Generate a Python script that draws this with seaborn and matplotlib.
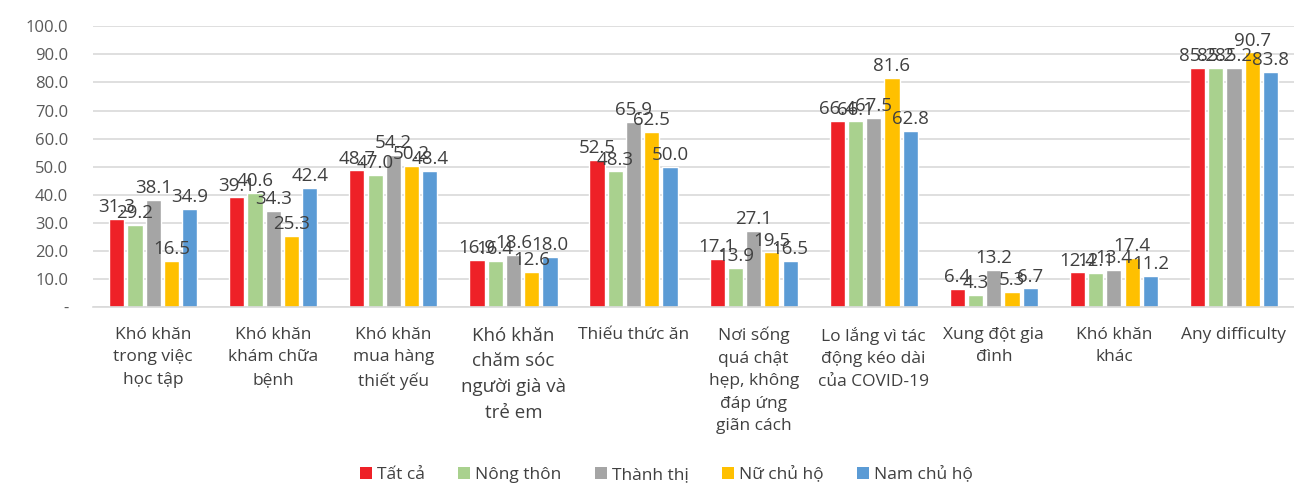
import matplotlib
matplotlib.use("Agg")
import matplotlib.pyplot as plt
from matplotlib.patches import Patch
import seaborn as sns
import pandas as pd

categories = [
    "Khó khăn\ntrong việc\nhọc tập",
    "Khó khăn\nkhám chữa\nbệnh",
    "Khó khăn\nmua hàng\nthiết yếu",
    "Khó khăn\nchăm sóc\nngười già và\ntrẻ em",
    "Thiếu thức ăn",
    "Nơi sống\nquá chật\nhẹp, không\nđáp ứng\ngiãn cách",
    "Lo lắng vì tác\nđộng kéo dài\ncủa COVID-19",
    "Xung đột gia\nđình",
    "Khó khăn\nkhác",
    "Any difficulty",
]
series = ["Tất cả", "Nông thôn", "Thành thị", "Nữ chủ hộ", "Nam chủ hộ"]
tat_ca = [31.3, 39.1, 48.7, 16.9, 52.5, 17.1, 66.4, 6.4, 12.4, 85.2]
nong_thon = [29.2, 40.6, 47.0, 16.4, 48.3, 13.9, 66.1, 4.3, 12.1, 85.2]
thanh_thi = [38.1, 34.3, 54.2, 18.6, 65.9, 27.1, 67.5, 13.2, 13.4, 85.2]
nu_chu_ho = [16.5, 25.3, 50.2, 12.6, 62.5, 19.5, 81.6, 5.3, 17.4, 90.7]
nam_chu_ho = [34.9, 42.4, 48.4, 18.0, 50.0, 16.5, 62.8, 6.7, 11.2, 83.8]
yticks = [0, 10, 20, 30, 40, 50, 60, 70, 80, 90, 100]
ytick_labels = ["-"] + [f"{v:.1f}" for v in yticks[1:]]

colors = ["#EE2127", "#A9D18E", "#A5A5A5", "#FFC000", "#5B9BD5"]

values = [tat_ca, nong_thon, thanh_thi, nu_chu_ho, nam_chu_ho]
rows = []
for s, vals in zip(series, values):
    for c, v in zip(categories, vals):
        rows.append({"cat": c, "series": s, "value": v})
df = pd.DataFrame(rows)

sns.set_theme(style="white")
plt.rcParams["font.family"] = ["Open Sans", "DejaVu Sans"]

fig = plt.figure(figsize=(12.94, 4.86), dpi=100)
ax = fig.add_axes([0.072, 0.368, 0.928, 0.578])

sns.barplot(data=df, x="cat", y="value", hue="series", order=categories,
            hue_order=series, palette=colors, width=0.76, gap=0.17,
            saturation=1, legend=False, ax=ax)

for cont in ax.containers:
    ax.bar_label(cont, fmt="%.1f", padding=2, fontsize=13.5, color="#404040")

ax.set_ylim(0, 100)
ax.set_xlim(-0.5, 9.5)
ax.set_yticks(yticks)
ax.set_yticklabels(ytick_labels, fontsize=12, color="#595959")
ax.tick_params(axis="y", length=0, pad=18)
ax.tick_params(axis="x", length=0, pad=14)
ax.set_xticks(range(len(categories)))
ax.set_xticklabels(categories, fontsize=12.5, color="#404040", linespacing=1.55, va="top")
ax.get_xticklabels()[3].set_fontsize(13.5)
ax.yaxis.grid(True, color="#D9D9D9", linewidth=1.2)
ax.set_axisbelow(True)
for side in ["top", "right", "left"]:
    ax.spines[side].set_visible(False)
ax.spines["bottom"].set_color("#D9D9D9")
ax.spines["bottom"].set_linewidth(1.2)
ax.set_xlabel("")
ax.set_ylabel("")

handles = [Patch(facecolor=c, edgecolor="none") for c in colors]
fig.legend(handles, series, loc="lower center", ncol=5, frameon=False,
           fontsize=12.5, bbox_to_anchor=(0.515, -0.026), handlelength=0.7,
           handleheight=0.7, handletextpad=0.3, columnspacing=1.9,
           labelcolor="#404040")

fig.savefig("out.png", dpi=100)
